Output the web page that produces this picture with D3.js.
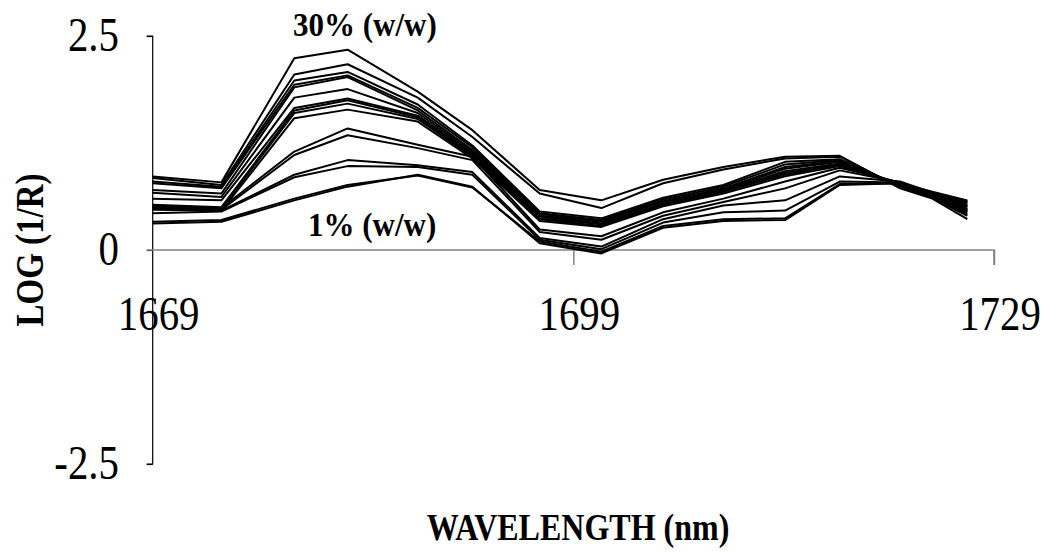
<!DOCTYPE html>
<html>
<head>
<meta charset="utf-8">
<script src="https://cdn.jsdelivr.net/npm/d3@7"></script>
<style>
  html, body { margin: 0; padding: 0; background: #fff; }
  svg { display: block; }
  text { font-family: "Liberation Serif", "Times New Roman", serif; fill: #000; }
</style>
</head>
<body>
<svg id="chart" width="1042" height="552"></svg>
<script>
// Wavelength sampling points (nm)
const wavelengths = [1669, 1673.9, 1679.1, 1682.9, 1687.9, 1691.8, 1696.6, 1701, 1705.4, 1709.7, 1714.1, 1718, 1722.3, 1724.6, 1727.1];

// LOG(1/R) spectra, one per sample, from 30% (w/w) down to 1% (w/w)
const s1  = [0.86, 0.79, 2.24, 2.34, 1.85, 1.40, 0.70, 0.58, 0.82, 0.97, 1.09, 1.10, 0.72, 0.60, 0.36];
const s2  = [0.84, 0.76, 2.05, 2.17, 1.78, 1.32, 0.66, 0.49, 0.78, 0.94, 1.07, 1.09, 0.73, 0.61, 0.40];
const s3  = [0.80, 0.74, 1.98, 2.08, 1.70, 1.22, 0.45, 0.37, 0.61, 0.76, 1.03, 1.06, 0.74, 0.62, 0.42];
const s4  = [0.78, 0.72, 1.93, 2.04, 1.66, 1.20, 0.43, 0.35, 0.59, 0.74, 1.00, 1.05, 0.75, 0.62, 0.44];
const s5  = [0.70, 0.66, 1.90, 2.02, 1.63, 1.17, 0.42, 0.34, 0.57, 0.72, 0.97, 1.04, 0.76, 0.63, 0.45];
const s6  = [0.67, 0.62, 1.78, 1.88, 1.60, 1.15, 0.40, 0.33, 0.56, 0.71, 0.95, 1.03, 0.76, 0.63, 0.46];
const s7  = [0.60, 0.58, 1.66, 1.77, 1.57, 1.13, 0.39, 0.31, 0.54, 0.70, 0.92, 1.01, 0.77, 0.64, 0.47];
const s8  = [0.53, 0.50, 1.63, 1.75, 1.55, 1.11, 0.37, 0.30, 0.53, 0.69, 0.90, 1.00, 0.77, 0.64, 0.48];
const s9  = [0.51, 0.48, 1.60, 1.71, 1.53, 1.09, 0.36, 0.28, 0.52, 0.68, 0.88, 0.99, 0.78, 0.65, 0.50];
const s10 = [0.49, 0.46, 1.54, 1.64, 1.50, 1.07, 0.34, 0.27, 0.51, 0.66, 0.86, 0.98, 0.78, 0.65, 0.51];
const s11 = [0.52, 0.49, 1.15, 1.42, 1.23, 1.09, 0.24, 0.16, 0.44, 0.60, 0.80, 0.96, 0.79, 0.66, 0.52];
const s12 = [0.49, 0.47, 1.11, 1.34, 1.19, 1.05, 0.21, 0.12, 0.40, 0.56, 0.72, 0.93, 0.79, 0.66, 0.53];
const s13 = [0.47, 0.46, 0.88, 1.05, 0.99, 0.91, 0.14, 0.04, 0.36, 0.52, 0.58, 0.86, 0.80, 0.67, 0.55];
const s14 = [0.43, 0.45, 0.85, 0.98, 0.97, 0.88, 0.12, 0.01, 0.32, 0.44, 0.46, 0.80, 0.79, 0.67, 0.56];
const s15 = [0.33, 0.35, 0.60, 0.76, 0.87, 0.73, 0.10, -0.02, 0.28, 0.36, 0.37, 0.77, 0.78, 0.67, 0.57];
const s16 = [0.31, 0.33, 0.58, 0.74, 0.88, 0.74, 0.08, -0.04, 0.26, 0.34, 0.35, 0.76, 0.78, 0.68, 0.58];
const spectra = [s1, s2, s3, s4, s5, s6, s7, s8, s9, s10, s11, s12, s13, s14, s15, s16];

// Axis ticks and labels
const xTicks = [1669, 1699, 1729];
const yTicks = [-2.5, 0, 2.5];
const yTickLabels = ["-2.5", "0", "2.5"];
const xTitle = "WAVELENGTH (nm)";
const yTitle = "LOG (1/R)";
const topNote = "30% (w/w)";
const bottomNote = "1% (w/w)";

const svg = d3.select("#chart");

const x = d3.scaleLinear().domain([1669, 1729]).range([152.7, 994]);
const y = d3.scaleLinear().domain([-2.5, 2.5]).range([464, 36]);

// Vertical value axis on the left
const yAxis = d3.axisLeft(y).tickValues(yTicks).tickSize(6).tickFormat(() => "");
const gy = svg.append("g").attr("transform", `translate(${x(1669)},0)`).call(yAxis);
gy.select(".domain").attr("stroke", "#000").attr("stroke-width", 1.2).attr("d", `M-6,${y(2.5)}H0V${y(-2.5)}H-6`);
gy.selectAll(".tick line").attr("stroke", "#000").attr("stroke-width", 1.2);

svg.append("g").selectAll("text").data(yTicks).join("text")
  .attr("transform", d => `translate(119,${y(d) + 15}) scale(0.95,1.12)`)
  .attr("text-anchor", "end").style("font-size", "43px")
  .text((d, i) => yTickLabels[i]);

// Horizontal category axis drawn through zero
const xAxis = d3.axisBottom(x).tickValues(xTicks).tickSize(15).tickFormat(() => "");
const gx = svg.append("g").attr("transform", `translate(0,${y(0)})`).call(xAxis);
gx.select(".domain").attr("stroke", "#808080").attr("stroke-width", 1.5).attr("d", `M${x(1669) - 6},0H${x(1729)}V15`);
gx.selectAll(".tick line").attr("stroke", "#808080").attr("stroke-width", 1.5);
gx.selectAll(".tick").filter(d => d === 1669).select("line").remove();

svg.append("g").selectAll("text").data(xTicks).join("text")
  .attr("transform", d => `translate(${x(d) + 6},${y(0) + 80}) scale(0.95,1.12)`)
  .attr("text-anchor", "middle").style("font-size", "43px")
  .text(d => d);

// Spectra
const line = d3.line().x((d, i) => x(wavelengths[i])).y(d => y(d));
svg.append("g").selectAll("path").data(spectra).join("path")
  .attr("d", line).attr("fill", "none").attr("stroke", "#000")
  .attr("stroke-width", 2).attr("stroke-linejoin", "round");

// Concentration notes
svg.append("text").attr("transform", "translate(293,36) scale(1,1.12)")
  .style("font-size", "31px").style("font-weight", "bold").text(topNote);
svg.append("text").attr("transform", "translate(308,236) scale(1,1.12)")
  .style("font-size", "31px").style("font-weight", "bold").text(bottomNote);

// Axis titles
svg.append("text")
  .attr("transform", "translate(43,250) rotate(-90) scale(1,1.2)")
  .attr("text-anchor", "middle")
  .style("font-size", "33px").style("font-weight", "bold").text(yTitle);
svg.append("text")
  .attr("transform", "translate(578,540) scale(0.97,1.12)")
  .attr("text-anchor", "middle")
  .style("font-size", "33px").style("font-weight", "bold").text(xTitle);
</script>
</body>
</html>
